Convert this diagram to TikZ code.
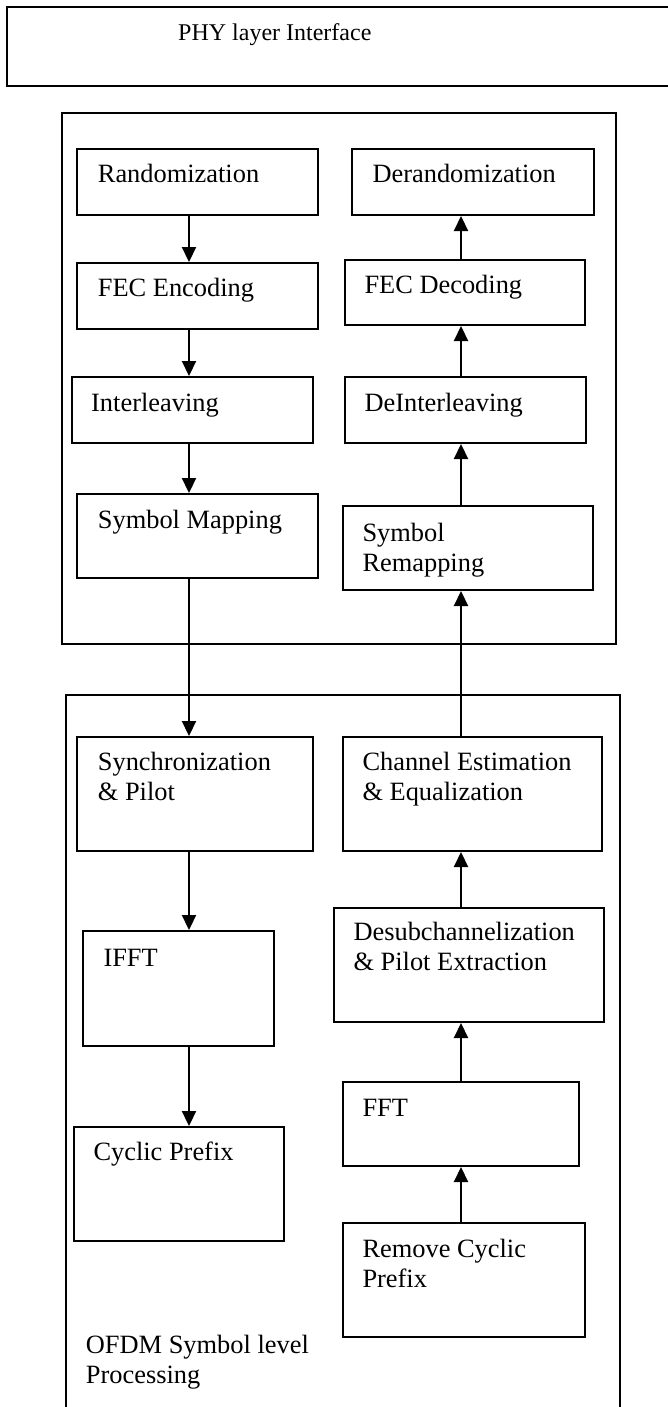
\documentclass[tikz,border=0pt]{standalone}
\usepackage{fontspec}
\setmainfont{Liberation Serif}
\usetikzlibrary{arrows.meta}

\begin{document}
\begin{tikzpicture}[x=1pt, y=-1pt,
  blk/.style={draw, line width=2pt, inner sep=0pt, anchor=north west},
  grp/.style={draw, line width=1.6pt, inner sep=0pt, anchor=north west},
  txt/.style={font=\fontsize{26.4}{30}\selectfont, inner sep=0pt, anchor=base west, align=left},
  arr/.style={line width=2.2pt, -{Triangle[length=15pt,width=14pt]}}]

\useasboundingbox (0,0) rectangle (667,1407);

% --- PHY layer interface (runs off the right edge) ---
\node[blk, minimum width=700pt, minimum height=79pt] (phy) at (6,6) {};
\node[txt, font=\fontsize{24}{28}\selectfont] (phyT) at (178,41) {PHY layer Interface};

% --- Bit level processing (upper group) ---
\node[grp, minimum width=554pt, minimum height=531pt] (bitgrp) at (61,112) {};

\node[blk, minimum width=241pt, minimum height=66pt] (rand) at (76,148) {};
\node[blk, minimum width=241pt, minimum height=66pt] (fecenc) at (76,262) {};
\node[blk, minimum width=241pt, minimum height=66pt] (intl) at (71,376) {};
\node[blk, minimum width=241pt, minimum height=84pt] (symmap) at (76,493) {};
\node[txt] (randT) at (97.7,182.7) {Randomization};
\node[txt] (fecencT) at (97.7,296.7) {FEC Encoding};
\node[txt] (intlT) at (91,411.7) {Interleaving};
\node[txt] (symmapT) at (97.7,528.3) {Symbol Mapping};

\node[blk, minimum width=242pt, minimum height=66pt] (derand) at (351,148) {};
\node[blk, minimum width=240pt, minimum height=65pt] (fecdec) at (344,259) {};
\node[blk, minimum width=241pt, minimum height=66pt] (deintl) at (344,376) {};
\node[blk, minimum width=250pt, minimum height=84pt] (symremap) at (342,505) {};
\node[txt] (derandT) at (372.3,182.7) {Derandomization};
\node[txt] (fecdecT) at (364.3,293.3) {FEC Decoding};
\node[txt] (deintlT) at (364.3,411.7) {DeInterleaving};
\node[txt] (symremapT) at (362.3,571.7) {Symbol\\Remapping};

% --- OFDM symbol level processing (lower group, open at the bottom) ---
\node[grp, minimum width=554pt, minimum height=730pt] (ofdmgrp) at (65,694) {};
\node[txt] (ofdmT) at (85.7,1383.3) {OFDM Symbol level\\Processing};

\node[blk, minimum width=236pt, minimum height=114pt] (sync) at (76,736) {};
\node[blk, minimum width=191pt, minimum height=115pt] (ifft) at (82,930) {};
\node[blk, minimum width=210pt, minimum height=114pt] (cp) at (73,1126) {};
\node[txt] (syncT) at (97.7,800.7) {Synchronization\\\& Pilot};
\node[txt] (ifftT) at (103.3,966) {IFFT};
\node[txt] (cpT) at (93.3,1160) {Cyclic Prefix};

\node[blk, minimum width=259pt, minimum height=114pt] (chest) at (342,736) {};
\node[blk, minimum width=270pt, minimum height=114pt] (desub) at (333,907) {};
\node[blk, minimum width=236pt, minimum height=84pt] (fft) at (342,1081) {};
\node[blk, minimum width=242pt, minimum height=114pt] (rcp) at (342,1222) {};
\node[txt] (chestT) at (362.3,800.7) {Channel Estimation\\\& Equalization};
\node[txt] (desubT) at (353.3,970) {Desubchannelization\\\& Pilot Extraction};
\node[txt] (fftT) at (362.3,1116.7) {FFT};
\node[txt] (rcpT) at (362.3,1287.3) {Remove Cyclic\\Prefix};

% --- transmit chain ---
\coordinate (lx) at (189,0);
\draw[arr] (rand.south -| lx) -- (fecenc.north -| lx);
\draw[arr] (fecenc.south -| lx) -- (intl.north -| lx);
\draw[arr] (intl.south -| lx) -- (symmap.north -| lx);
\draw[arr] (symmap.south -| lx) -- (sync.north -| lx);
\draw[arr] (sync.south -| lx) -- (ifft.north -| lx);
\draw[arr] (ifft.south -| lx) -- (cp.north -| lx);

% --- receive chain ---
\coordinate (rx) at (461,0);
\draw[arr] (rcp.north -| rx) -- (fft.south -| rx);
\draw[arr] (fft.north -| rx) -- (desub.south -| rx);
\draw[arr] (desub.north -| rx) -- (chest.south -| rx);
\draw[arr] (chest.north -| rx) -- (symremap.south -| rx);
\draw[arr] (symremap.north -| rx) -- (deintl.south -| rx);
\draw[arr] (deintl.north -| rx) -- (fecdec.south -| rx);
\draw[arr] (fecdec.north -| rx) -- (derand.south -| rx);

\end{tikzpicture}
\end{document}
